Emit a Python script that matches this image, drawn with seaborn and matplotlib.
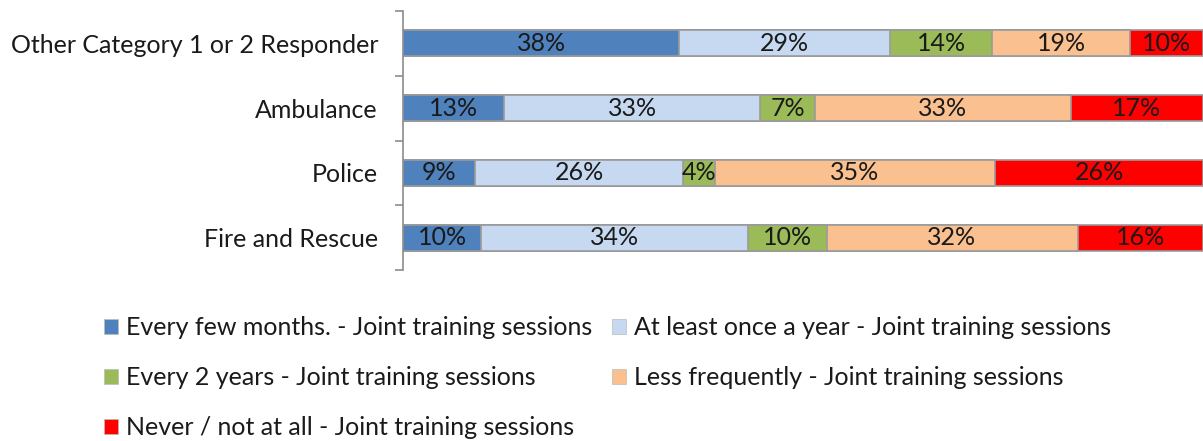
import matplotlib
matplotlib.use("Agg")
import matplotlib.pyplot as plt
import matplotlib.patches as mpatches
import seaborn as sns
import numpy as np
import pandas as pd

categories = ["Other Category 1 or 2 Responder", "Ambulance", "Police", "Fire and Rescue"]
series = [
    "Every few months. - Joint training sessions",
    "At least once a year - Joint training sessions",
    "Every 2 years - Joint training sessions",
    "Less frequently - Joint training sessions",
    "Never / not at all - Joint training sessions",
]
every_few_months = [38, 13, 9, 10]
once_a_year = [29, 33, 26, 34]
every_2_years = [14, 7, 4, 10]
less_frequently = [19, 33, 35, 32]
never = [10, 17, 26, 16]

colors = ["#4F81BD", "#C6D9F1", "#9BBB59", "#FAC090", "#FF0000"]

sns.set_style("white")
plt.rcParams["font.family"] = ["Lato", "DejaVu Sans"]

FS = 18

vals = np.array([every_few_months, once_a_year, every_2_years, less_frequently, never], dtype=float)
norm = vals / vals.sum(axis=0) * 100
cum = np.cumsum(norm, axis=0)

fig = plt.figure(figsize=(12.03, 4.41), dpi=100)
ax = fig.add_axes([403 / 1203, 1 - 270 / 441, 800 / 1203, 259 / 441])

for i in range(len(series) - 1, -1, -1):
    df = pd.DataFrame({"cat": categories, "val": cum[i]})
    sns.barplot(data=df, y="cat", x="val", order=categories, orient="h",
                color=colors[i], width=0.4, edgecolor="#9a9a9a", linewidth=1.2,
                ax=ax, saturation=1)

for i in range(len(series)):
    for j in range(len(categories)):
        center = cum[i, j] - norm[i, j] / 2
        ax.text(center, j, f"{int(vals[i, j])}%", ha="center", va="center",
                fontsize=FS, color="#1a1a1a")

ax.set_xlim(0, 100)
ax.set_ylim(3.5, -0.5)
ax.set_xlabel("")
ax.set_ylabel("")
ax.set_xticks([])
ax.set_yticks(range(len(categories)))
ax.set_yticklabels(categories, fontsize=FS, color="#1a1a1a")
ax.set_yticks([-0.5, 0.5, 1.5, 2.5, 3.5], minor=True)
ax.tick_params(axis="y", which="major", length=0, pad=18)
ax.tick_params(axis="y", which="minor", length=6, color="#8c8c8c", width=1.2, left=True)
for s in ["top", "right", "bottom"]:
    ax.spines[s].set_visible(False)
ax.spines["left"].set_color("#8c8c8c")
ax.spines["left"].set_linewidth(1.2)

handles = [mpatches.Patch(facecolor=c, edgecolor="#bbbbbb", linewidth=0.5) for c in colors]
order = [0, 2, 4, 1, 3]
fig.legend([handles[k] for k in order], [series[k] for k in order], ncol=2,
           loc="upper left", bbox_to_anchor=(104 / 1203, 1 - 316 / 441),
           frameon=False, fontsize=FS, labelspacing=1.08, handlelength=0.56,
           handleheight=0.56, handletextpad=0.32, columnspacing=0.8, labelcolor="#1a1a1a",
           borderaxespad=0, borderpad=0)

fig.savefig("out.png", dpi=100)
